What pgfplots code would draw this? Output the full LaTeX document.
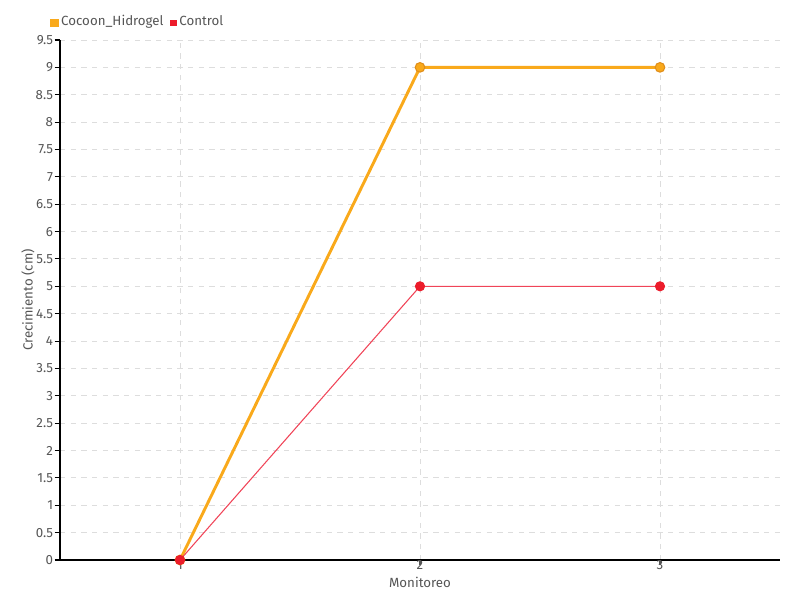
\documentclass[border=0pt]{standalone}
\usepackage{pgfplots}
\pgfplotsset{compat=1.18}
\usepackage{fontspec}
\setmainfont{Fira Sans}[Scale=0.95]
\definecolor{cocoon}{HTML}{F9A91B}
\definecolor{cocoonedge}{HTML}{E08E1A}
\definecolor{ctrl}{HTML}{EC1C2B}
\definecolor{ctrlline}{HTML}{F04458}
\definecolor{txt}{HTML}{555555}
\definecolor{gridc}{HTML}{DDDDDD}
\begin{document}
\begin{tikzpicture}
\begin{axis}[
  at={(45pt,30pt)}, anchor=origin,
  scale only axis, width=540pt, height=390pt,
  xmin=0.5, xmax=3.5, ymin=0, ymax=9.5,
  xtick={1,2,3}, xticklabels={1,2,3},
  ytick={0,0.5,...,9.5},
  yticklabels={0,0.5,1,1.5,2,2.5,3,3.5,4,4.5,5,5.5,6,6.5,7,7.5,8,8.5,9,9.5},
  axis x line*=bottom, axis y line*=left,
  axis line style={black, line width=0.9pt, -},
  tick style={black, line width=0.8pt},
  xtick style={draw=txt},
  major tick length=4pt,
  tick align=outside,
  grid=major,
  major grid style={gridc, dashed, line width=0.7pt, dash pattern=on 4pt off 4pt},
  ticklabel style={font=\fontsize{10.5}{11}\selectfont, text=txt, inner sep=1pt},
  /pgf/number format/assume math mode=true,
  xticklabel style={yshift=5pt},
  yticklabel style={xshift=0pt},
  xlabel={Monitoreo}, ylabel={Crecimiento (cm)},
  label style={font=\fontsize{10.5}{12}\selectfont, text=txt},
  xlabel style={at={(axis description cs:0.5,-0.0423)}, anchor=center},
  ylabel style={at={(axis description cs:-0.0445,0.5)}, anchor=center, rotate=0},
  legend columns=2,
  legend style={draw=none, fill=none, at={(-0.0139,1.0365)}, anchor=west,
    font=\fontsize{10.5}{12}\selectfont, text=txt,
    /tikz/every even column/.append style={column sep=3pt},
    inner sep=0pt},
  legend image code/.code={\fill[#1] (0pt,-3pt) rectangle (4pt,1pt);},
  clip=false,
]
\addplot[color=cocoon, line width=2.2pt, mark=*, mark size=3.6pt,
  mark options={fill=cocoon, draw=cocoonedge, line width=0.8pt},
  legend image code/.code={\fill[cocoon] (0pt,-3.5pt) rectangle (4pt,0.5pt);}]
  coordinates {(1,0) (2,9) (3,9)};
\addlegendentry{Cocoon\_Hidrogel}
\addplot[color=ctrlline, line width=0.8pt, mark=*, mark size=3.4pt,
  mark options={fill=ctrl, draw=ctrl},
  legend image code/.code={\fill[ctrl] (0pt,-3.5pt) rectangle (4pt,0.5pt);}]
  coordinates {(1,0) (2,5) (3,5)};
\addlegendentry{Control}
\end{axis}
\pgfresetboundingbox
\path (0,0) rectangle (600pt,450pt);
\end{tikzpicture}
\end{document}
